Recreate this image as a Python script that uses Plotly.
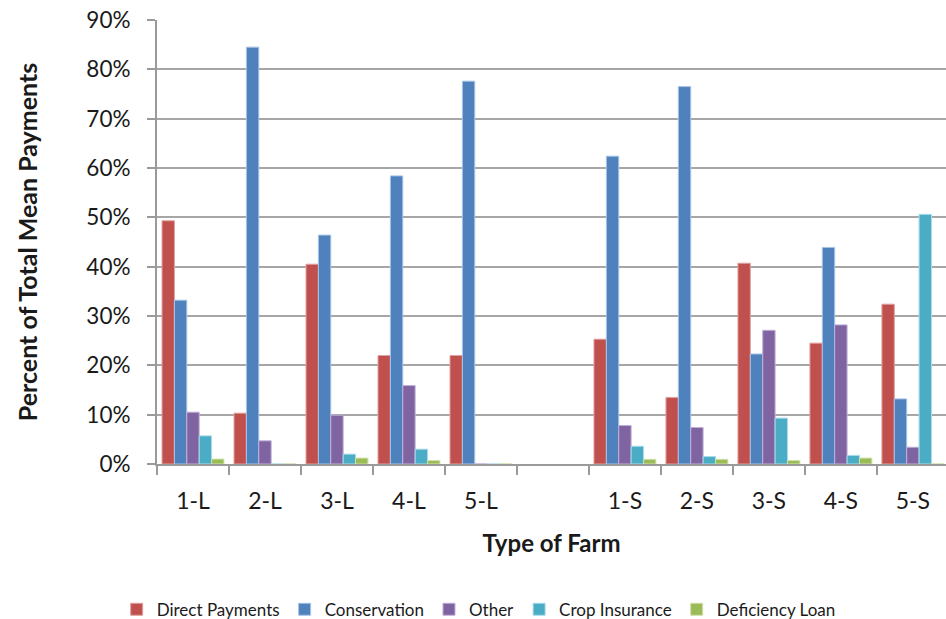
import plotly.graph_objects as go

categories = ["1-L", "2-L", "3-L", "4-L", "5-L", " ", "1-S", "2-S", "3-S", "4-S", "5-S"]

direct_payments = [0.493, 0.103, 0.405, 0.220, 0.220, None, 0.253, 0.135, 0.407, 0.245, 0.324]
conservation    = [0.332, 0.845, 0.464, 0.584, 0.776, None, 0.624, 0.765, 0.223, 0.439, 0.132]
other           = [0.105, 0.047, 0.099, 0.159, 0.0,   None, 0.078, 0.074, 0.271, 0.282, 0.034]
crop_insurance  = [0.057, 0.0,   0.020, 0.030, 0.0,   None, 0.036, 0.015, 0.093, 0.0175, 0.506]
deficiency_loan = [0.010, 0.0,   0.012, 0.007, 0.0,   None, 0.0095, 0.0095, 0.007, 0.012, 0.0]

series = [
    ("Direct Payments", direct_payments, "#C0504D", "#E0A0A0"),
    ("Conservation", conservation, "#4F81BD", "#A8C4E6"),
    ("Other", other, "#8064A2", "#C0B0D8"),
    ("Crop Insurance", crop_insurance, "#4BACC6", "#A8DCEA"),
    ("Deficiency Loan", deficiency_loan, "#9BBB59", "#CFE0A8"),
]

FONT = "Lato"
TEXT = "#1a1a1a"
fig = go.Figure()
for name, vals, color, edge in series:
    fig.add_trace(go.Bar(
        x=categories, y=vals, name=name,
        marker=dict(color=color, line=dict(color=edge, width=1)),
    ))

fig.update_layout(
    width=946, height=619,
    margin=dict(l=157, r=0, t=20, b=155),
    paper_bgcolor="white", plot_bgcolor="white",
    barmode="group", bargap=0.14, bargroupgap=0,
    font=dict(family=FONT, color=TEXT),
    showlegend=True,
    legend=dict(
        orientation="h", xref="container", yref="container",
        x=0.506, xanchor="center", y=0.015, yanchor="middle",
        font=dict(size=17, family=FONT, color=TEXT),
        itemwidth=30, traceorder="normal",
    ),
)

fig.update_xaxes(
    type="category", range=[-0.5, 10.46],
    showline=True, linecolor="#9a9a9a", linewidth=2,
    ticks="outside", tickson="boundaries", ticklen=9, tickcolor="#9a9a9a", tickwidth=2,
    ticklabelstandoff=15,
    tickfont=dict(size=23, family=FONT, color=TEXT),
    title=dict(text="<b>Type of Farm</b>", font=dict(size=24, family=FONT, color=TEXT), standoff=23),
    showgrid=False,
)

fig.update_yaxes(
    range=[0, 0.9], dtick=0.1, tickformat=".0%",
    showline=True, linecolor="#9a9a9a", linewidth=2,
    ticks="outside", ticklen=8, tickcolor="#9a9a9a", tickwidth=2,
    ticklabelstandoff=12,
    showgrid=True, gridcolor="#a6a6a6", gridwidth=1.5,
    zeroline=False,
    tickfont=dict(size=22.5, family=FONT, color=TEXT),
    title=dict(text="<b>Percent of Total Mean Payments</b>", font=dict(size=25, family=FONT, color=TEXT), standoff=42),
)

fig.write_html("out.html")
